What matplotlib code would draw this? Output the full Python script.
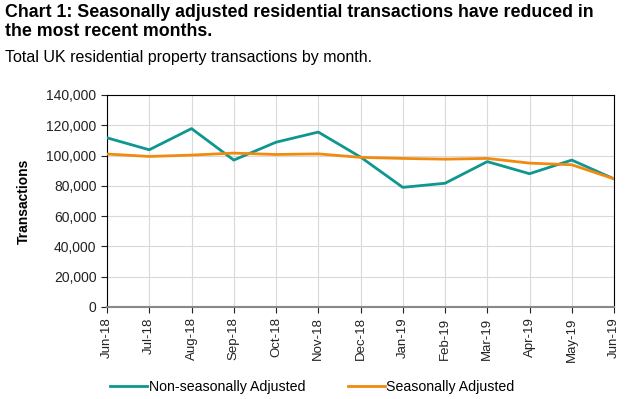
import matplotlib.pyplot as plt
from matplotlib.ticker import FuncFormatter

plt.rcParams['font.family'] = ['Liberation Sans', 'DejaVu Sans']

months = ['Jun-18', 'Jul-18', 'Aug-18', 'Sep-18', 'Oct-18', 'Nov-18', 'Dec-18',
          'Jan-19', 'Feb-19', 'Mar-19', 'Apr-19', 'May-19', 'Jun-19']
non_sa = [111700, 103800, 117800, 97000, 108800, 115500, 99000,
          79000, 81700, 96000, 88000, 97000, 84600]
sa = [101000, 99400, 100300, 101600, 100700, 101100, 98800,
      98100, 97600, 98100, 95000, 93900, 84600]

teal = '#0E9690'
orange = '#F28A10'

fig = plt.figure(figsize=(6.31, 3.99), dpi=100)
ax = fig.add_axes([0.1696, 0.2306, 0.8035, 0.5314])

x = range(len(months))
ax.plot(x, non_sa, color=teal, lw=2, label='Non-seasonally Adjusted', zorder=3)
ax.plot(x, sa, color=orange, lw=2, label='Seasonally Adjusted', zorder=3)

ax.set_xlim(0, len(months) - 1)
ax.set_ylim(0, 140000)
ax.set_yticks(range(0, 140001, 20000))
ax.yaxis.set_major_formatter(FuncFormatter(lambda v, p: f'{int(v):,}'))
ax.set_xticks(list(x))
ax.set_xticklabels(months, rotation=90)
ax.grid(True, color='#d9d9d9', lw=0.8, zorder=0)
ax.set_axisbelow(True)
ax.tick_params(axis='both', labelsize=10, colors='#222222', length=4, width=0.8)
ax.tick_params(axis='x', labelsize=9.5)
for s in ['top', 'right', 'left']:
    ax.spines[s].set_color('black')
    ax.spines[s].set_linewidth(0.8)
ax.spines['bottom'].set_color('#888888')
ax.spines['bottom'].set_linewidth(1.5)
ax.set_ylabel('Transactions', fontsize=10, fontweight='bold', labelpad=11)

fig.text(0.008, 0.99, 'Chart 1: Seasonally adjusted residential transactions have reduced in\nthe most recent months.',
         fontsize=12.8, fontweight='bold', va='top', ha='left', linespacing=1.15)
fig.text(0.008, 0.875, 'Total UK residential property transactions by month.',
         fontsize=11.5, va='top', ha='left')

fig.legend(loc='center', bbox_to_anchor=(0.495, 0.03), ncol=2, frameon=False,
           fontsize=10.2, handlelength=2.6, handletextpad=0.1, columnspacing=3.0)

fig.savefig('out.png', dpi=100)
